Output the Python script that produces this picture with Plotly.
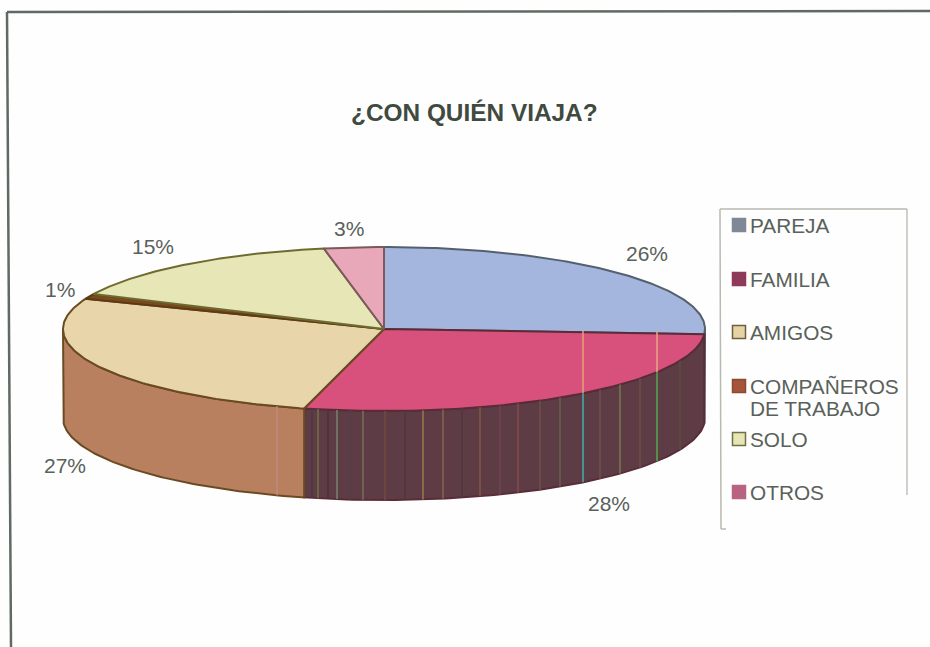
import numpy as np
import plotly.graph_objects as go

categories = ["PAREJA", "FAMILIA", "AMIGOS", "COMPAÑEROS<br>DE TRABAJO", "SOLO", "OTROS"]
values = [26, 28, 27, 1, 15, 3]
top_colors = ["#a4b5de", "#d8517c", "#e8d6aa", "#7a4a1c", "#e6e6b6", "#e9a8ba"]
side_colors = ["#54453f", "#5e3c45", "#b8805e", "#6b4320", "#a8a878", "#a86a80"]
edge_colors = ["#55606e", "#5a2c38", "#6b4a22", "#5e3a14", "#6e6a30", "#7a5a5a"]
legend_colors = ["#7f8895", "#8f3a58", "#e6d3a4", "#a5553a", "#e7e5b4", "#b8637f"]
legend_edges = ["#7f8895", "#8f3a58", "#6f5f40", "#8a4a30", "#6f6f48", "#b8637f"]

# layout geometry in pixels
CX, CY, RX, RY, DEPTH = 384, 329, 321, 82, 89
label_offsets = [(29, -19), (36, 19), (-33, 10), (-29, -7), (-34, -18), (-5, -19)]
legend_rows = [225, 279, 332, 386, 439, 492]
TEXT = "#59615a"
FONT = "Liberation Sans, Arial, sans-serif"


def ex(t):
    return CX + RX * np.sin(t)


def ey(t):
    return CY - RY * np.cos(t)


fracs = np.array(values) / sum(values)
edges = np.concatenate([[0], np.cumsum(fracs)]) * 2 * np.pi

fig = go.Figure()

# side walls (only the front half of the disc is visible)
for i in range(len(values)):
    a = max(edges[i], np.pi / 2)
    b = min(edges[i + 1], 3 * np.pi / 2)
    if b <= a:
        continue
    t = np.linspace(a, b, 80)
    xs = np.concatenate([ex(t), ex(t[::-1])])
    ys = np.concatenate([ey(t), ey(t[::-1]) + DEPTH])
    fig.add_trace(go.Scatter(
        x=np.append(xs, xs[0]), y=np.append(ys, ys[0]), mode="lines", fill="toself",
        fillcolor=side_colors[i], line=dict(color=edge_colors[i], width=2),
        showlegend=False, hoverinfo="skip"))

# top faces
for i in range(len(values)):
    t = np.linspace(edges[i], edges[i + 1], 120)
    xs = np.concatenate([[CX], ex(t), [CX]])
    ys = np.concatenate([[CY], ey(t), [CY]])
    fig.add_trace(go.Scatter(
        x=xs, y=ys, mode="lines", fill="toself", fillcolor=top_colors[i],
        line=dict(color=edge_colors[i], width=2), name=categories[i].replace("<br>", " "),
        showlegend=False, hoverinfo="name"))

# percentage labels
mids = (edges[:-1] + edges[1:]) / 2
for i, v in enumerate(values):
    lift = DEPTH if np.pi / 2 < mids[i] < 3 * np.pi / 2 else 0
    fig.add_annotation(x=ex(mids[i]) + label_offsets[i][0], y=ey(mids[i]) + lift + label_offsets[i][1],
                       text=f"{v}%", showarrow=False, font=dict(size=21, color=TEXT, family=FONT))

# legend swatches and texts
fig.add_trace(go.Scatter(
    x=[739] * len(categories), y=legend_rows, mode="markers",
    marker=dict(symbol="square", size=13, color=legend_colors, line=dict(color=legend_edges, width=1.5)),
    showlegend=False, hoverinfo="skip"))
for row, name in zip(legend_rows, categories):
    for k, part in enumerate(name.split("<br>")):
        fig.add_annotation(x=748, y=row + 22 * k, text=part, showarrow=False, xanchor="left",
                           font=dict(size=20.8, color=TEXT, family=FONT))

fig.add_annotation(x=474.5, y=112, text="<b>¿CON QUIÉN VIAJA?</b>", showarrow=False,
                   font=dict(size=24.4, color="#3f4a40", family=FONT))


def line(x0, y0, x1, y1, color, width=1.5):
    return dict(type="line", x0=x0, y0=y0, x1=x1, y1=y1, xref="x", yref="y",
                line=dict(color=color, width=width))


def front_y(x):
    return CY + RY * np.sqrt(1 - ((x - CX) / RX) ** 2)


shapes = [
    line(7, 12, 11, 647, "#5f6b62", 2.5),
    line(7, 12, 930, 11, "#5f6b62", 2.5),
    line(720, 209, 907, 209, "#b9b9b0"),
    line(720, 209, 721, 529, "#b9b9b0"),
    line(907, 209, 907, 495, "#c2c2ba"),
    line(721, 529, 726, 529, "#b9b9b0"),
]
# scanner streaks on the dark wall
for x, c in [(312, "#4e3a3e"), (318, "#6e6248"), (328, "#4e3438"), (337, "#6d7263"), (350, "#553e48"),
             (363, "#6a6450"), (385, "#6e4440"), (405, "#54363c"), (423, "#8a6a44"), (443, "#7a5a48"),
             (462, "#52383c"), (480, "#7a5040"), (500, "#6a4248"), (518, "#7a4848"), (540, "#6a4a44"),
             (560, "#5f5a44"), (600, "#6a4a4a"), (620, "#6f6a48"), (640, "#6a4a40"), (680, "#5a4a40")]:
    y = front_y(x)
    shapes.append(line(x, y, x, y + DEPTH, c, 2))
for x, top, wall in [(583, "#e8a070", "#3fb0a8"), (657, "#e8a880", "#55a850")]:
    y = front_y(x)
    shapes.append(line(x, CY + 2, x, y, top, 1.5))
    shapes.append(line(x, y, x, y + DEPTH, wall, 1.5))
shapes.append(line(277, front_y(277), 277, front_y(277) + DEPTH, "#c08a80", 1.5))

fig.update_layout(
    width=930, height=647, margin=dict(l=0, r=0, t=0, b=0),
    paper_bgcolor="#fefefe", plot_bgcolor="#fefefe", showlegend=False, shapes=shapes,
    xaxis=dict(range=[0, 930], visible=False, fixedrange=True),
    yaxis=dict(range=[647, 0], visible=False, fixedrange=True),
)
fig.write_html("out.html", config={"displayModeBar": False},
               post_script="document.body.style.margin='0';document.body.style.overflow='hidden';")
